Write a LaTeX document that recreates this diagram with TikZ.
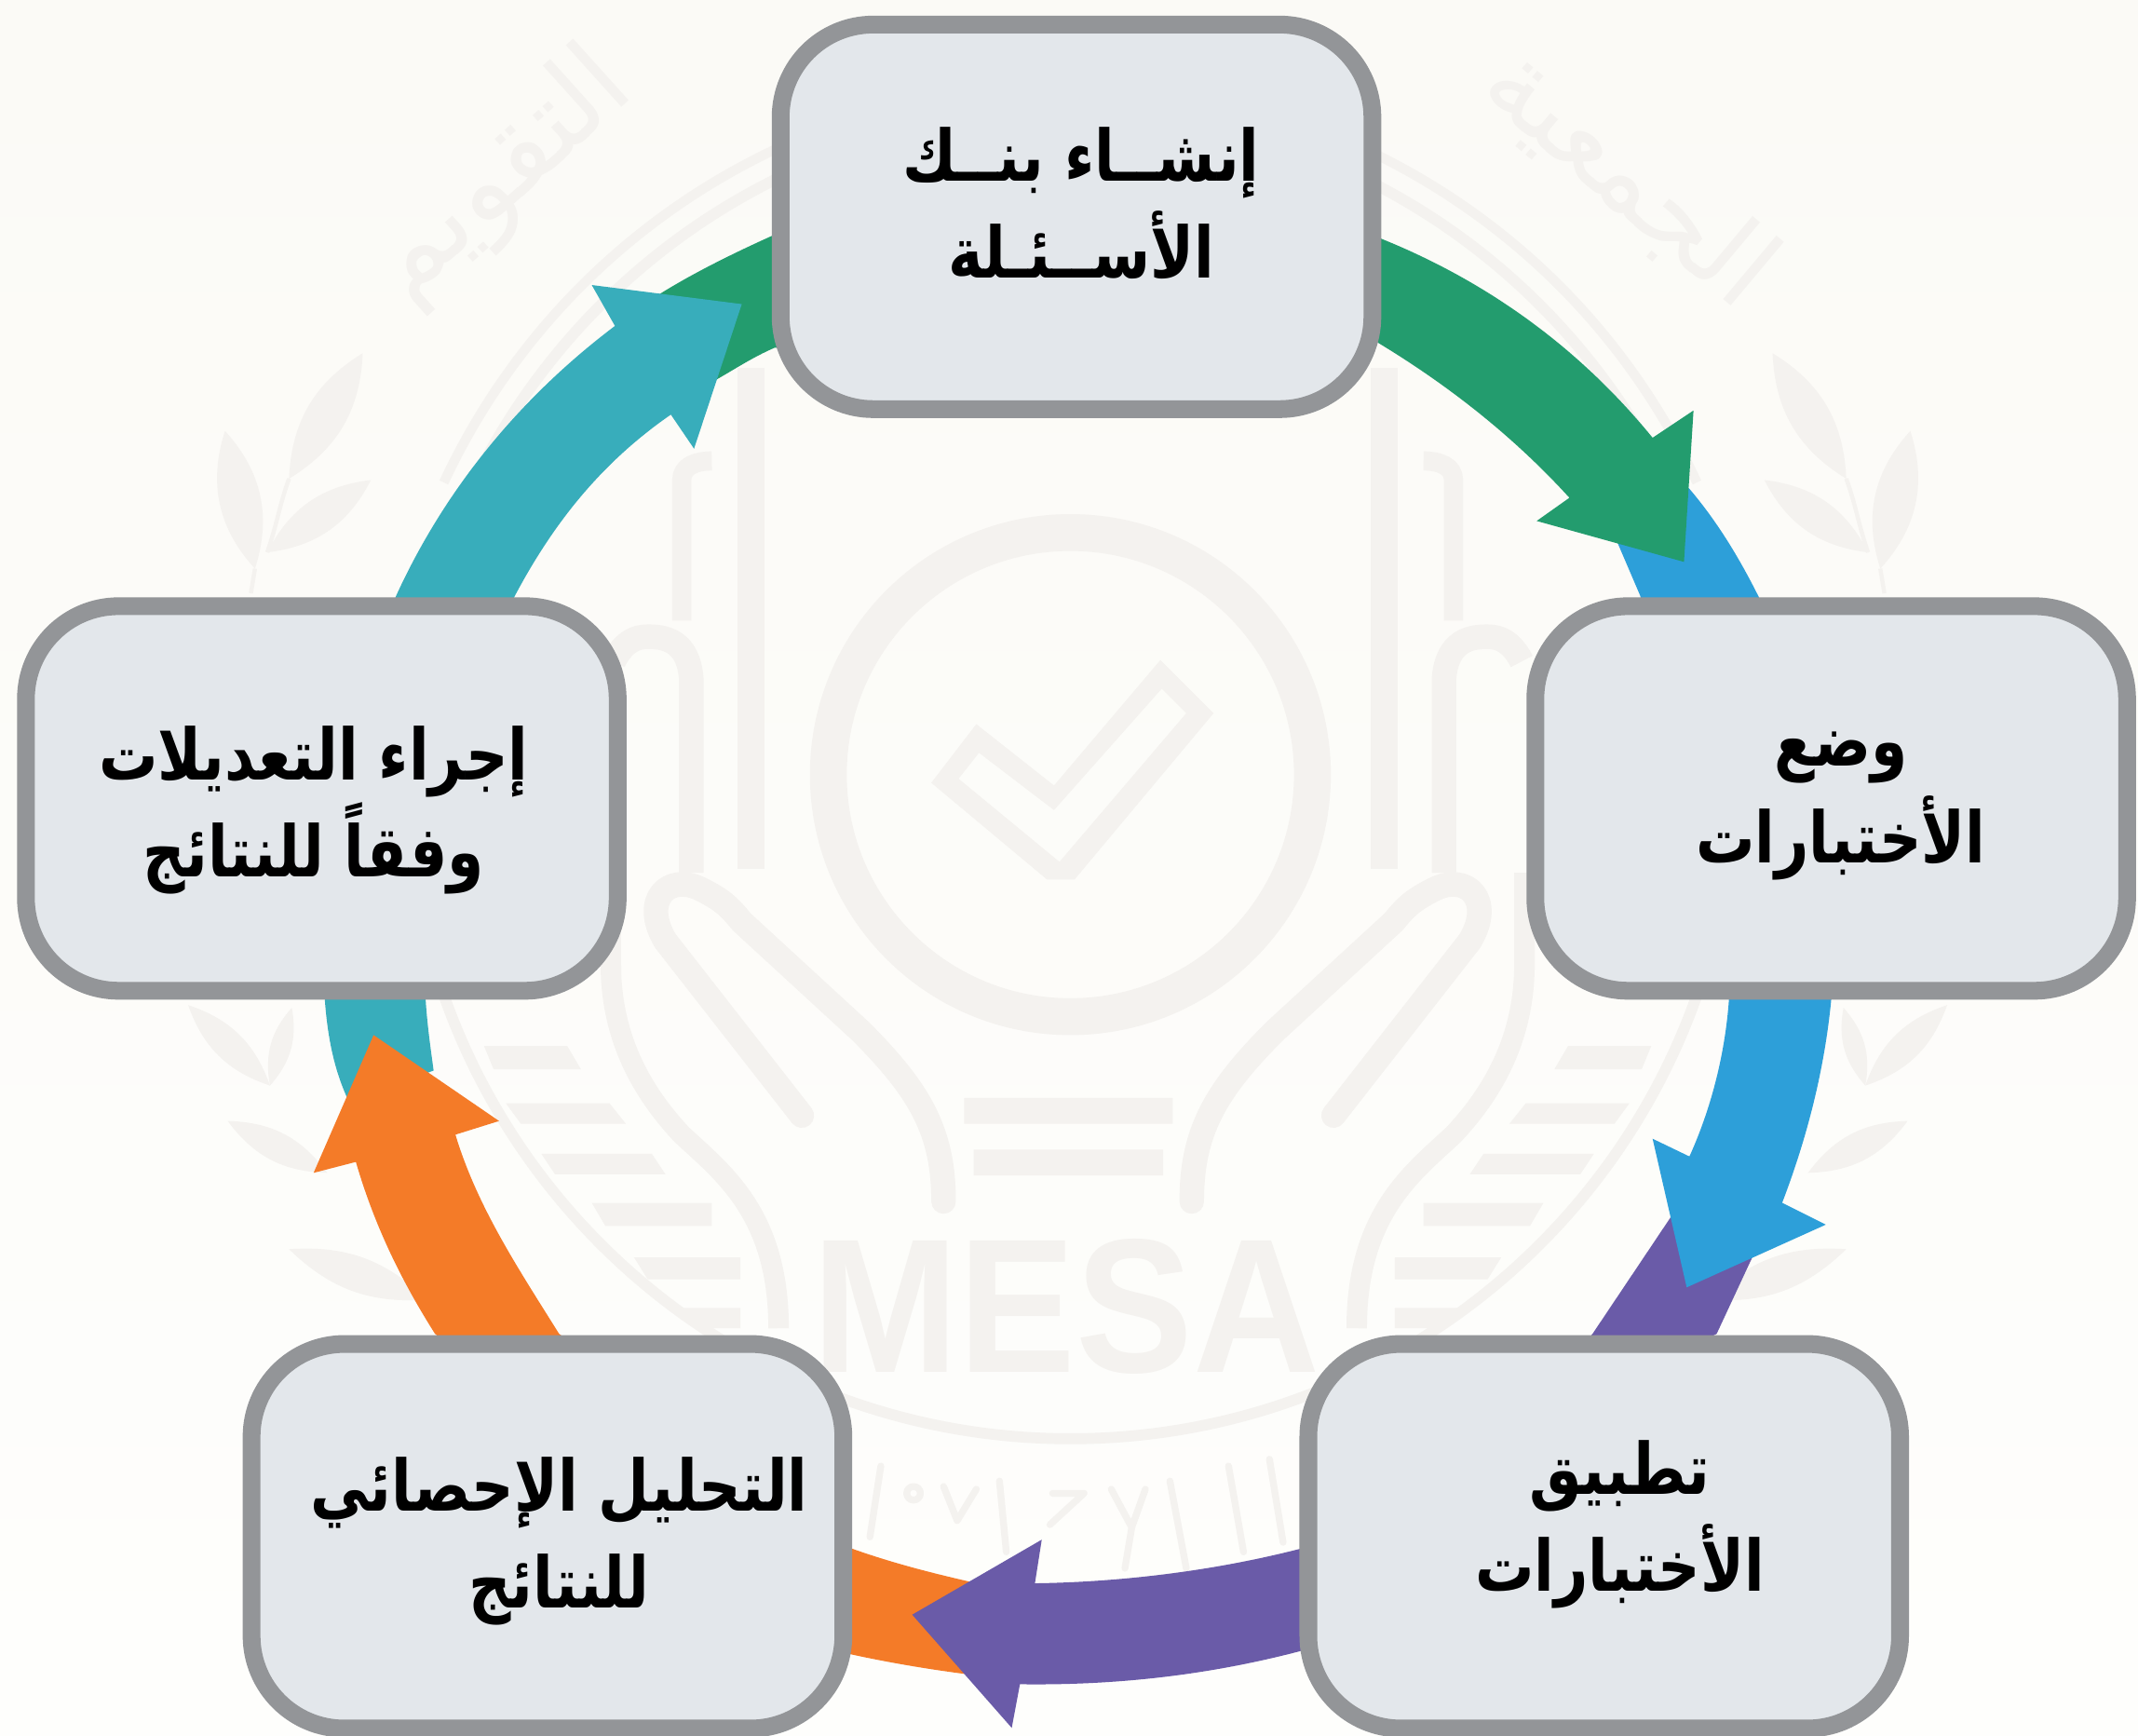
\documentclass[tikz,border=0pt]{standalone}
\usepackage{fontspec}
\setmainfont{Liberation Sans}
\newfontfamily\arfont[Script=Arabic]{DejaVu Sans}
\newfontfamily\arbold[Script=Arabic]{DejaVu Sans Bold}
\TeXXeTstate=1
\definecolor{pagetop}{HTML}{FBFAF6}
\definecolor{pagelow}{HTML}{FEFEFC}
\definecolor{wm}{HTML}{F4F2EF}
\definecolor{boxfill}{HTML}{E3E7EB}
\definecolor{boxline}{HTML}{939598}
\definecolor{cgreen}{HTML}{239C6E}
\definecolor{cblue}{HTML}{2D9FD9}
\definecolor{cpurple}{HTML}{6A5BA8}
\definecolor{corange}{HTML}{F47B28}
\definecolor{cteal}{HTML}{38ADBB}
\tikzset{
  stagebox/.style={draw=boxline,fill=boxfill,line width=13pt,rounded corners=68pt,
    minimum width=434pt,minimum height=282pt,inner sep=0pt},
  stagetext/.style={align=center,font=\arbold\fontsize{52}{71}\selectfont,text=black,inner sep=0pt,xscale=.83},
  wmline/.style={draw=wm,line width=18pt,line cap=round,line join=round},
  wmmark/.style={draw=wm,line width=5pt,line cap=round,line join=round},
}
\newcommand\wmleaf[3]{\fill[wm] (#1) to[bend left=#3] (#2) to[bend left=#3] (#1);}
\newcommand\wmside{%
  % hand outline
  \draw[wmline] (588,818) -- (488,690) .. controls (470,660) and (490,640) .. (514,652) .. controls (530,660) and (535,665) .. (544,676)
     -- (631,756) .. controls (675,800) and (692,830) .. (692,881);
  \draw[wmline,line width=15pt,line cap=butt] (448,640) -- (448,707) .. controls (448,760) and (470,800) .. (500,832)
     .. controls (530,860) and (571,890) .. (571,974);
  \draw[wmline,line cap=butt] (507,640) -- (507,498) .. controls (505,470) and (488,466) .. (472,467) .. controls (462,468) and (455,475) .. (450,485);
  \draw[wmline,line width=20pt,line cap=butt] (551,270) -- (551,637);
  \draw[wmline,line width=14pt,line cap=butt] (500,455) -- (500,352) .. controls (500,342) and (510,338) .. (522,338);
  % stripes
  \fill[wm] (355,767) -- (416,767) -- (426,784) -- (362,784) -- cycle;
  \fill[wm] (371,809) -- (447,809) -- (459,824) -- (382,824) -- cycle;
  \fill[wm] (397,846) -- (478,846) -- (488,861) -- (407,861) -- cycle;
  \fill[wm] (434,882) -- (522,882) -- (522,899) -- (444,899) -- cycle;
  \fill[wm] (465,922) -- (543,922) -- (543,938) -- (475,938) -- cycle;
  \fill[wm] (496,959) -- (543,959) -- (543,974) -- (510,974) -- cycle;
  % laurel
  \wmleaf{212,351}{266,259}{28}
  \wmleaf{187,417}{165,316}{30}
  \wmleaf{196,405}{272,352}{28}
  \wmleaf{198,796}{138,737}{26}
  \wmleaf{198,796}{214,739}{26}
  \wmleaf{240,860}{167,822}{26}
  \wmleaf{313,953}{212,916}{24}
  \draw[wm,line width=3pt] (184,435) -- (187,417) (196,405) .. controls (203,385) and (205,370) .. (212,351);
}
\begin{document}
\begin{tikzpicture}[x=1pt,y=-1pt]
\useasboundingbox (0,0) rectangle (1568,1272.3);
\shade[top color=pagetop,bottom color=pagelow] (0,0) rectangle (1568,1272.3);
% watermark
\draw[wm,line width=27pt] (785,568) circle[radius=177.5];
\draw[wm,line width=8pt] (785,568) circle[radius=487];
\draw[wm,line width=7pt] (785,568) ++(-25:507) arc[start angle=-25,end angle=-155,radius=507];
\fill[wm,even odd rule] (851,484) -- (890,523) -- (788,645) -- (768,645) -- (683,574) -- (716,531) -- (773,576) -- cycle
  (852,505) -- (870,523) -- (777,632) -- (703,571) -- (718,552) -- (773,594) -- cycle;
\wmside
\begin{scope}[xshift=1566pt,xscale=-1]\wmside\end{scope}
\fill[wm] (707,805) rectangle (860,824) (714,843) rectangle (853,862);
\node[text=wm,font=\bfseries\fontsize{140}{140}\selectfont,xscale=.92,inner sep=0pt,anchor=base] (wmname) at (782,1006) {MESA};
\node[text=wm,font=\arfont\fontsize{80}{90}\selectfont,rotate=42,inner sep=0pt] (wmleft) at (368,130) {\beginR التقويم\endR};
\node[text=wm,font=\arfont\fontsize{80}{90}\selectfont,rotate=-40,inner sep=0pt] (wmright) at (1195,130) {\beginR الجمعية\endR};
% faint marks under the lower ring
\draw[wmmark] (646,1075) -- (638,1127) (733,1086) -- (738,1138) (901,1075) -- (912,1138) (931,1070) -- (941,1131) (858,1086) -- (870,1150)
  (692,1090) -- (702,1115) -- (716,1092) (815,1092) -- (830,1120) -- (840,1092) (830,1120) -- (825,1150)
  (772,1095) -- (795,1095) -- (770,1118) (670,1095) circle[radius=5];
% arrows: each tail lies under the head of the one before
\fill[cteal] (256,808) .. controls (245,785) and (240,760) .. (238,730) -- (312,730)
  .. controls (313,750) and (316,770) .. (318,785) -- cycle;
\fill[corange] (725,1163) .. controls (690,1155) and (655,1147) .. (615,1132) -- (410,978)
  .. controls (380,930) and (350,885) .. (334,832) -- (366,822) -- (274,759) -- (230,860) -- (261,852)
  .. controls (275,900) and (295,940) .. (319,978) -- (615,1211) .. controls (645,1218) and (680,1224) .. (712,1228) -- cycle;
\fill[cpurple] (1293,905) -- (1259,978) -- (960,1134) .. controls (900,1150) and (830,1160) .. (759,1161)
  -- (764,1129) -- (669,1184) -- (742,1267) -- (748,1235) .. controls (820,1236) and (890,1228) .. (960,1209)
  -- (1168,978) -- (1235,878) -- cycle;
\fill[cblue] (1236,355) .. controls (1258,380) and (1275,408) .. (1290,438) -- (1343,733)
  .. controls (1338,785) and (1325,835) .. (1307,882) -- (1339,898) -- (1237,944) -- (1212,835) -- (1239,848)
  .. controls (1254,815) and (1265,775) .. (1268,733) -- (1203,437) -- (1185,395) -- cycle;
\fill[cgreen] (480,218) .. controls (505,202) and (535,187) .. (566,173) -- (1000,170)
  .. controls (1075,198) and (1150,245) .. (1212,321) -- (1242,301) -- (1235,412) -- (1127,382) -- (1151,365)
  .. controls (1110,320) and (1060,280) .. (1000,245) -- (568,255) .. controls (552,262) and (540,270) .. (526,278) -- (505,300) -- cycle;
\fill[cteal] (290,438) .. controls (330,350) and (390,285) .. (451,239) -- (434,209) -- (544,223) -- (509,329) -- (492,304)
  .. controls (440,340) and (405,385) .. (377,438) -- (377,460) -- (290,460) -- cycle;
% stages
\node[stagebox] (bank) at (789.5,159) {};
\node[stagebox] (set) at (1343,585.5) {};
\node[stagebox] (apply) at (1176.5,1126.5) {};
\node[stagebox] (stats) at (401.5,1126.5) {};
\node[stagebox] (edit) at (236,585.5) {};
\node[stagetext] (bankt) at (793,149) {\beginR إنشــاء بنــك\endR\\\beginR الأســئـلة\endR};
\node[stagetext] (sett) at (1350,591) {\beginR وضع\endR\\\beginR الأختبارات\endR};
\node[stagetext] (applyt) at (1188,1118) {\beginR تطبيق\endR\\\beginR الأختبارات\endR};
\node[stagetext] (statst) at (410,1130) {\beginR التحليل الإحصائي\endR\\\beginR للنتائج\endR};
\node[stagetext] (editt) at (230,594) {\beginR إجراء التعديلات\endR\\\beginR وفقاً للنتائج\endR};
\end{tikzpicture}
\end{document}
